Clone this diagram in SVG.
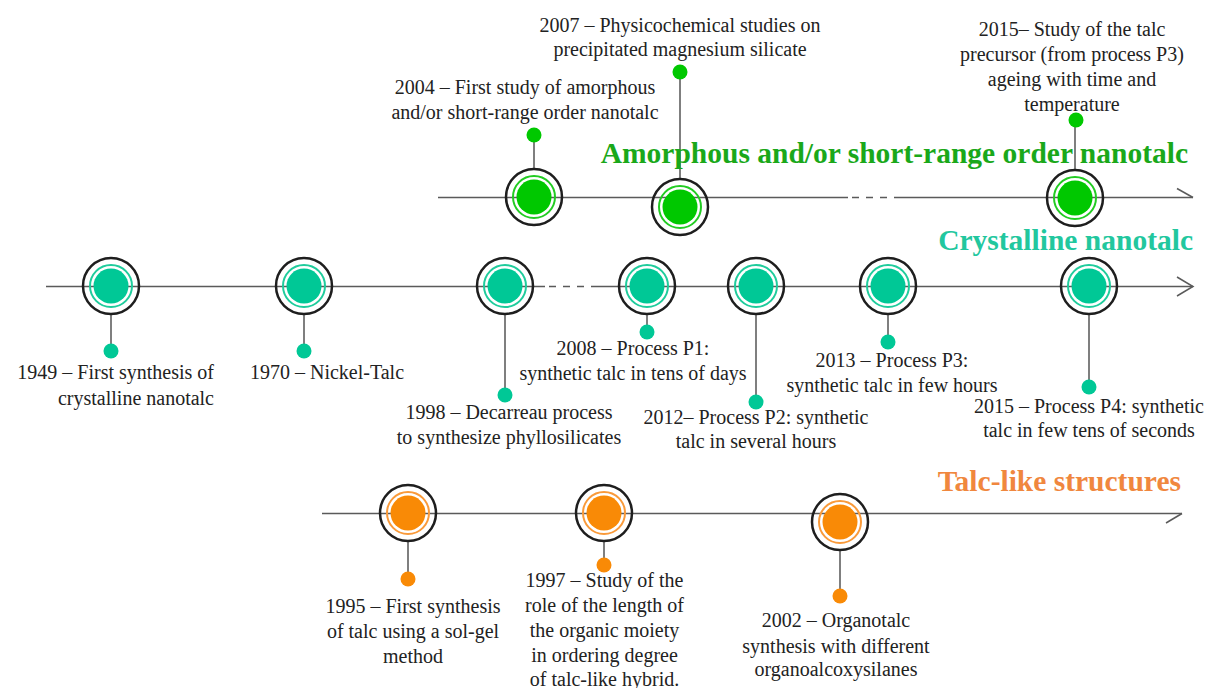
<svg xmlns="http://www.w3.org/2000/svg" xmlns:xlink="http://www.w3.org/1999/xlink" width="1210" height="688" viewBox="0 0 1210 688">
<style>
.axis{stroke:#5a5a5a;stroke-width:1.5;fill:none}
.dash{stroke:#5a5a5a;stroke-width:1.5;stroke-dasharray:7 7;fill:none}
.stem{stroke:#555;stroke-width:1.5;fill:none}
.ring{fill:none;stroke:#1e1e1e;stroke-width:2.5}
text{font-family:'Liberation Serif','Times New Roman',Times,Tinos,'Noto Serif','DejaVu Serif',serif}
.lbl{font-size:20px;fill:#222;text-anchor:middle}
.title{font-weight:bold;font-size:29.5px;text-anchor:end}
</style>
<defs>
<g id="nG"><circle r="28" class="ring"/><circle r="21" fill="none" stroke="#22cc22" stroke-width="2"/><circle r="17.5" fill="#00c800"/></g>
<g id="nT"><circle r="28" class="ring"/><circle r="21" fill="none" stroke="#1fcc9c" stroke-width="2"/><circle r="17.5" fill="#00c896"/></g>
<g id="nO"><circle r="28" class="ring"/><circle r="21" fill="none" stroke="#f99a3a" stroke-width="2"/><circle r="17.5" fill="#f98a06"/></g>
</defs>
<rect width="1210" height="688" fill="#fff"/>

<g id="connectors">
<line class="axis" x1="438" y1="197.5" x2="848" y2="197.5"/>
<line class="dash" x1="852" y1="197.5" x2="900" y2="197.5"/>
<line class="axis" x1="900" y1="197.5" x2="1193" y2="197.5"/>
<polyline class="axis" points="1177,188.5 1193,197.5"/>
<line class="axis" x1="46" y1="286.5" x2="545" y2="286.5"/>
<line class="dash" x1="549" y1="286.5" x2="595" y2="286.5"/>
<line class="axis" x1="595" y1="286.5" x2="1193" y2="286.5"/>
<polyline class="axis" points="1177,277 1193,286.5 1177,296"/>
<line class="axis" x1="322" y1="513.5" x2="1182" y2="513.5"/>
<polyline class="axis" points="1166,523 1182,513.5"/>
<line class="stem" x1="534" y1="135" x2="534" y2="169"/>
<line class="stem" x1="680" y1="72" x2="680" y2="179"/>
<line class="stem" x1="1075" y1="120" x2="1075" y2="170"/>
<line class="stem" x1="111" y1="314" x2="111" y2="351"/>
<line class="stem" x1="304" y1="314" x2="304" y2="351"/>
<line class="stem" x1="505" y1="314" x2="505" y2="395"/>
<line class="stem" x1="647" y1="314" x2="647" y2="332"/>
<line class="stem" x1="756" y1="314" x2="756" y2="402"/>
<line class="stem" x1="888" y1="314" x2="888" y2="342"/>
<line class="stem" x1="1089" y1="314" x2="1089" y2="387"/>
<line class="stem" x1="408" y1="541" x2="408" y2="579" stroke="#222"/>
<line class="stem" x1="604" y1="541" x2="604" y2="565"/>
<line class="stem" x1="840" y1="550" x2="840" y2="596" stroke="#222"/>
</g>

<g id="titles">
<text class="title" x="1188" y="163" fill="#1aa81a">Amorphous and/or short-range order nanotalc</text>
<text class="title" x="1193" y="250" fill="#22c79e">Crystalline nanotalc</text>
<text class="title" x="1181" y="491" fill="#f0873e">Talc-like structures</text>
</g>

<g id="node-2004">
<use xlink:href="#nG" x="534" y="197"/>
<circle cx="534" cy="135" r="7.5" fill="#00c800"/>
<text class="lbl"><tspan x="525" y="94">2004 – First study of amorphous</tspan><tspan x="525" y="119">and/or short-range order nanotalc</tspan></text>
</g>
<g id="node-2007">
<use xlink:href="#nG" x="680" y="207"/>
<circle cx="680" cy="72" r="7.5" fill="#00c800"/>
<text class="lbl"><tspan x="680" y="31.5">2007 – Physicochemical studies on</tspan><tspan x="680" y="56">precipitated magnesium silicate</tspan></text>
</g>
<g id="node-2015a">
<use xlink:href="#nG" x="1075" y="198"/>
<circle cx="1076" cy="120" r="7.5" fill="#00c800"/>
<text class="lbl"><tspan x="1072" y="36">2015– Study of the talc</tspan><tspan x="1072" y="61">precursor (from process P3)</tspan><tspan x="1072" y="86">ageing with time and</tspan><tspan x="1072" y="110.5">temperature</tspan></text>
</g>

<g id="node-1949">
<use xlink:href="#nT" x="111" y="286"/>
<circle cx="111" cy="351" r="7.5" fill="#00c896"/>
<text class="lbl" style="text-anchor:end"><tspan x="214" y="379">1949 – First synthesis of</tspan><tspan x="214" y="405">crystalline nanotalc</tspan></text>
</g>
<g id="node-1970">
<use xlink:href="#nT" x="304" y="286"/>
<circle cx="304" cy="351" r="7.5" fill="#00c896"/>
<text class="lbl" x="327" y="379">1970 – Nickel-Talc</text>
</g>
<g id="node-1998">
<use xlink:href="#nT" x="505" y="286"/>
<circle cx="505" cy="395" r="7.5" fill="#00c896"/>
<text class="lbl"><tspan x="509" y="419">1998 – Decarreau process</tspan><tspan x="509" y="444">to synthesize phyllosilicates</tspan></text>
</g>
<g id="node-2008">
<use xlink:href="#nT" x="647" y="286"/>
<circle cx="647" cy="332" r="7.5" fill="#00c896"/>
<text class="lbl"><tspan x="633" y="355">2008 – Process P1:</tspan><tspan x="633" y="380">synthetic talc in tens of days</tspan></text>
</g>
<g id="node-2012">
<use xlink:href="#nT" x="756" y="286"/>
<circle cx="756" cy="402" r="7.5" fill="#00c896"/>
<text class="lbl"><tspan x="756" y="424">2012– Process P2: synthetic</tspan><tspan x="756" y="448">talc in several hours</tspan></text>
</g>
<g id="node-2013">
<use xlink:href="#nT" x="888" y="286"/>
<circle cx="888" cy="342" r="7.5" fill="#00c896"/>
<text class="lbl"><tspan x="892" y="367">2013 – Process P3:</tspan><tspan x="892" y="392">synthetic talc in few hours</tspan></text>
</g>
<g id="node-2015b">
<use xlink:href="#nT" x="1089" y="286"/>
<circle cx="1089" cy="387" r="7.5" fill="#00c896"/>
<text class="lbl"><tspan x="1089" y="413">2015 – Process P4: synthetic</tspan><tspan x="1089" y="437">talc in few tens of seconds</tspan></text>
</g>

<g id="node-1995">
<use xlink:href="#nO" x="408" y="513"/>
<circle cx="408" cy="579" r="7.5" fill="#f98a06"/>
<text class="lbl"><tspan x="413" y="613">1995 – First synthesis</tspan><tspan x="413" y="638">of talc using a sol-gel</tspan><tspan x="413" y="663">method</tspan></text>
</g>
<g id="node-1997">
<use xlink:href="#nO" x="604" y="513"/>
<circle cx="604" cy="565" r="7.5" fill="#f98a06"/>
<text class="lbl"><tspan x="604.5" y="587">1997 – Study of the</tspan><tspan x="604.5" y="612">role of the length of</tspan><tspan x="604.5" y="637">the organic moiety</tspan><tspan x="604.5" y="662">in ordering degree</tspan><tspan x="604.5" y="686">of talc-like hybrid.</tspan></text>
</g>
<g id="node-2002">
<use xlink:href="#nO" x="840" y="522"/>
<circle cx="840" cy="596" r="7.5" fill="#f98a06"/>
<text class="lbl"><tspan x="836" y="627">2002 – Organotalc</tspan><tspan x="836" y="652.5">synthesis with different</tspan><tspan x="836" y="676">organoalcoxysilanes</tspan></text>
</g>
</svg>
